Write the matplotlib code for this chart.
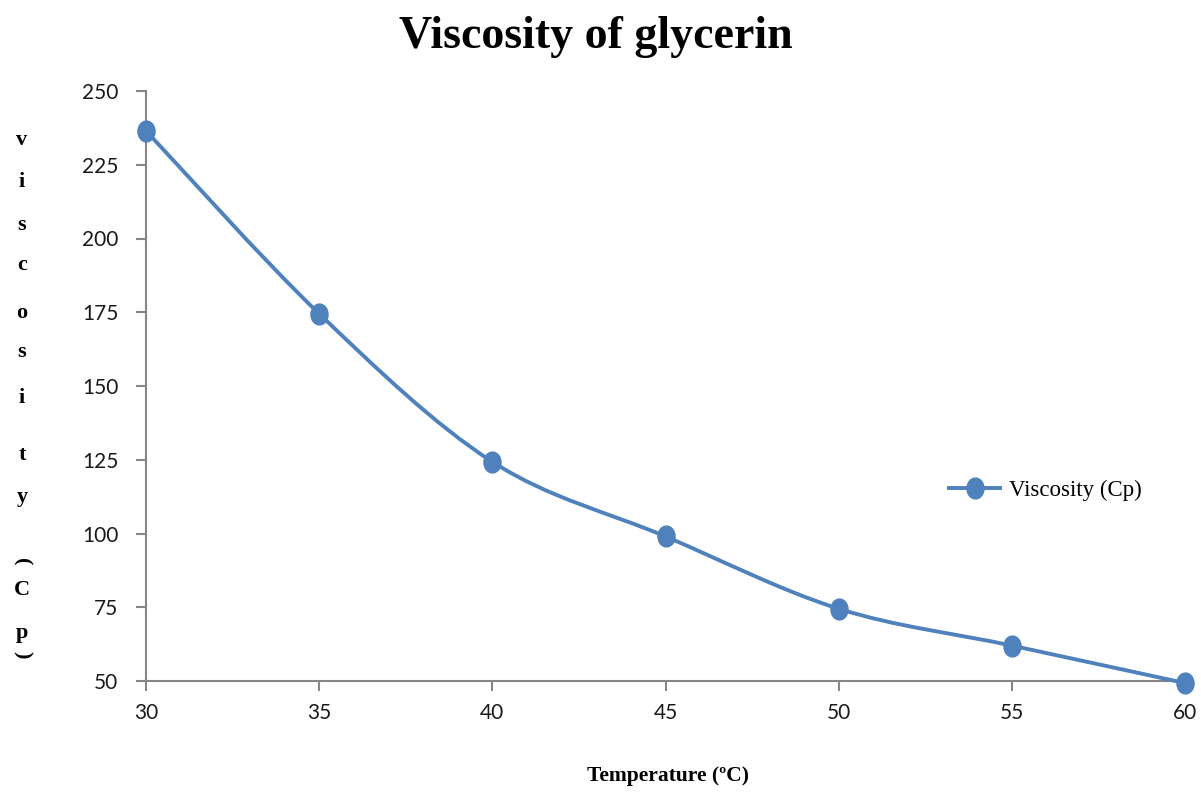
import matplotlib
matplotlib.use("Agg")
import matplotlib.pyplot as plt
from matplotlib.path import Path
from matplotlib.patches import PathPatch
from matplotlib.lines import Line2D
from matplotlib.transforms import Affine2D

temperature = [30, 35, 40, 45, 50, 55, 60]
viscosity = [236.5, 174.5, 124.3, 99.0, 74.5, 62.0, 49.3]
series_name = "Viscosity (Cp)"
title = "Viscosity of glycerin"
xlabel = "Temperature (ºC)"
ylabel_chars = ["v", "i", "s", "c", "o", "s", "i", "t", "y", "(", "C", "p", ")"]
yticks = [50, 75, 100, 125, 150, 175, 200, 225, 250]
xticks = [30, 35, 40, 45, 50, 55, 60]

blue = "#4F81BD"
axis_gray = "#868686"

# slightly tall elliptical marker (as in the reference)
ellipse_marker = Path.unit_circle().transformed(Affine2D().scale(0.82, 1.0))

fig = plt.figure(figsize=(12.01, 7.98), dpi=100)
ax = fig.add_axes([146 / 1201, 1 - 681 / 798, (1185 - 146) / 1201, (681 - 91) / 798])
ax.set_xlim(30, 60)
ax.set_ylim(50, 250)

# Smoothed line (Excel-style Bezier) through the data points
pts = list(zip(temperature, viscosity))
n = len(pts)
verts = [pts[0]]
codes = [Path.MOVETO]
for i in range(n - 1):
    p0 = pts[i - 1] if i > 0 else pts[i]
    p1 = pts[i]
    p2 = pts[i + 1]
    p3 = pts[i + 2] if i + 2 < n else pts[i + 1]
    c1 = (p1[0] + (p2[0] - p0[0]) / 6, p1[1] + (p2[1] - p0[1]) / 6)
    c2 = (p2[0] - (p3[0] - p1[0]) / 6, p2[1] - (p3[1] - p1[1]) / 6)
    verts += [c1, c2, p2]
    codes += [Path.CURVE4] * 3
patch = PathPatch(Path(verts, codes), facecolor="none", edgecolor=blue,
                  lw=2.8, transform=ax.transData, clip_on=False, zorder=3)
ax.add_patch(patch)
ax.plot(temperature, viscosity, linestyle="none", marker=ellipse_marker,
        markersize=15, color=blue, clip_on=False, zorder=4)

for s in ["top", "right"]:
    ax.spines[s].set_visible(False)
for s in ["left", "bottom"]:
    ax.spines[s].set_color(axis_gray)
    ax.spines[s].set_linewidth(1.5)

ax.set_xticks(xticks)
ax.set_yticks(yticks)
ax.tick_params(axis="both", direction="out", length=7, width=1.5, color=axis_gray,
               labelsize=15, labelcolor="#1a1a1a")
ax.tick_params(axis="x", pad=9)
ax.tick_params(axis="y", pad=13)
for lab in ax.get_xticklabels() + ax.get_yticklabels():
    lab.set_fontfamily("Lato")

fig.text(596 / 1201, 1 - 37 / 798, title, ha="center", va="center",
         fontsize=33, fontweight="bold", family="Liberation Serif")
fig.text(668 / 1201, 1 - 776 / 798, xlabel, ha="center", va="center",
         fontsize=15.5, fontweight="bold", family="Liberation Serif")

ypos = [140, 182, 225, 265, 313, 352, 398, 455, 497, 562, 590, 633, 655]
for ch, yp in zip(ylabel_chars, ypos):
    rot = -90 if ch in "()" else 0
    fig.text(22 / 1201, 1 - yp / 798, ch, ha="center", va="center",
             fontsize=16, fontweight="bold", family="Liberation Serif", rotation=rot)

handle = Line2D([], [], color=blue, lw=2.8, marker=ellipse_marker, markersize=15)
fig.legend([handle], [series_name], loc="center left",
           bbox_to_anchor=(938 / 1201, 1 - 490 / 798), frameon=False,
           prop={"family": "Liberation Serif", "size": 16.5}, handlelength=2.2,
           handletextpad=0.4, borderpad=0)

fig.savefig("out.png", dpi=100)
